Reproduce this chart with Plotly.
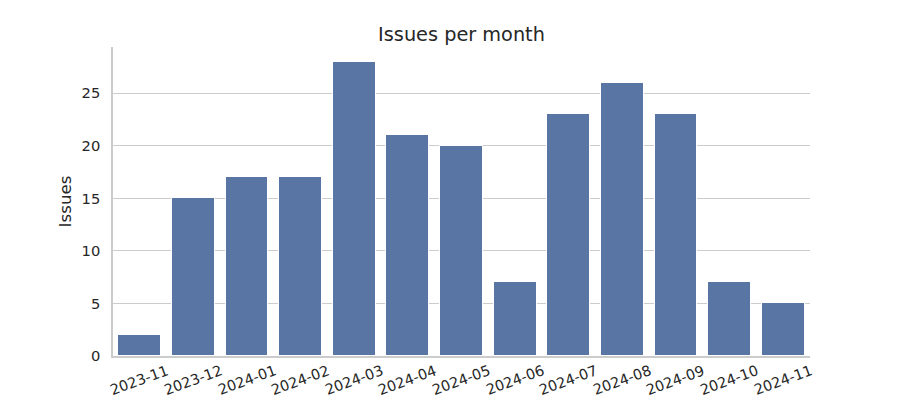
import plotly.graph_objects as go

months = ["2023-11", "2023-12", "2024-01", "2024-02", "2024-03", "2024-04", "2024-05",
          "2024-06", "2024-07", "2024-08", "2024-09", "2024-10", "2024-11"]
issues = [2, 15, 17, 17, 28, 21, 20, 7, 23, 26, 23, 7, 5]

font_family = "DejaVu Sans"
text_color = "#262626"

fig = go.Figure(go.Bar(
    x=months, y=issues,
    marker=dict(color="#5975a4", line=dict(color="white", width=1)),
    width=0.8,
))

# rotated, centred category labels (matplotlib-style)
for m in months:
    fig.add_annotation(
        x=m, xref="x", y=-0.079, yref="paper",
        text=m, textangle=-20, showarrow=False,
        xanchor="center", yanchor="middle", borderpad=0,
        font=dict(family=font_family, size=14.5, color=text_color),
    )

fig.update_layout(
    width=900, height=400,
    margin=dict(l=113, r=90, t=47, b=44),
    plot_bgcolor="white", paper_bgcolor="white",
    title=dict(text="Issues per month", x=(113 + 810) / 2 / 900, xanchor="center",
               y=1 - 34 / 400, yanchor="middle",
               font=dict(family=font_family, size=19.3, color=text_color)),
    showlegend=False,
    bargap=0,
)
fig.update_xaxes(
    type="category", range=[-0.5, 12.5], automargin=False,
    showticklabels=False,
    showgrid=False, showline=True, linecolor="#cccccc", linewidth=1.5,
    ticks="", zeroline=False,
)
fig.update_yaxes(
    range=[0, 29.4], tickvals=[0, 5, 10, 15, 20, 25], automargin=False,
    tickfont=dict(family=font_family, size=14.7, color=text_color),
    ticklabelstandoff=8,
    title=dict(text="Issues", font=dict(family=font_family, size=16.7, color=text_color), standoff=6),
    showgrid=True, gridcolor="#cccccc", gridwidth=1,
    showline=True, linecolor="#cccccc", linewidth=1.5,
    ticks="", zeroline=False,
)

fig.write_html("out.html")
